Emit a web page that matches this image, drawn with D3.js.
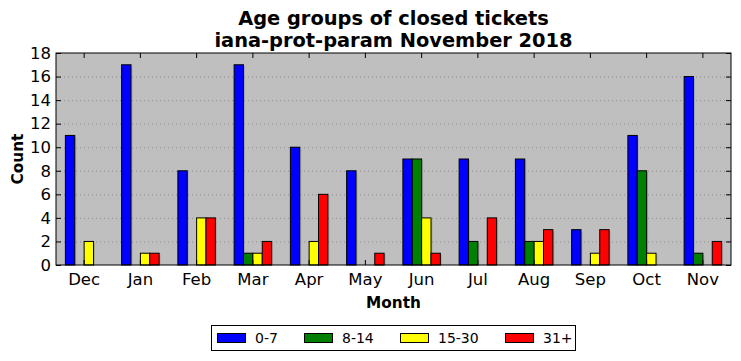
<!DOCTYPE html>
<html><head><meta charset="utf-8">
<script src="https://cdnjs.cloudflare.com/ajax/libs/d3/7.8.5/d3.min.js"></script>
<style>body{margin:0;background:#fff}svg{display:block;font-family:"DejaVu Sans",sans-serif}</style>
</head><body>
<svg id="c" width="741" height="361"></svg>
<script>
const months = ["Dec","Jan","Feb","Mar","Apr","May","Jun","Jul","Aug","Sep","Oct","Nov"];
const seriesNames = ["0-7","8-14","15-30","31+"];
const seriesColors = ["#0000ff","#008000","#ffff00","#ff0000"];
const s0_7   = [11,17,8,17,10,8,9,9,9,3,11,16];
const s8_14  = [0,0,0,1,0,0,9,2,2,0,8,1];
const s15_30 = [2,1,4,1,2,0,4,0,2,1,1,0];
const s31    = [0,1,4,2,6,1,1,4,3,3,0,2];
const yTicks = [0,2,4,6,8,10,12,14,16,18];
const allSeries = [s0_7, s8_14, s15_30, s31];

const svg = d3.select("#c");
const L=56, R=731, T=53, B=265;
const x = d3.scaleBand().domain(months).range([L,R]).padding(0);
const y = d3.scaleLinear().domain([0,18]).range([B,T]);
const bw = x.bandwidth()/6;

svg.append("rect").attr("x",L).attr("y",T).attr("width",R-L).attr("height",B-T).attr("fill","#bfbfbf");
// grid
svg.append("g").selectAll("line").data(yTicks.slice(1,-1)).join("line")
  .attr("x1",L).attr("x2",R).attr("y1",d=>y(d)+0.5).attr("y2",d=>y(d)+0.5)
  .attr("stroke","#8c8c8c").attr("stroke-width",1).attr("stroke-dasharray","1,3");

// bars
const bars = svg.append("g");
allSeries.forEach((vals,si)=>{
  const g = bars.append("g");
  g.selectAll("rect.sh").data(vals).join("rect").attr("class","sh")
    .attr("x",(d,i)=>x(months[i])+bw*(1+si)+1.5)
    .attr("y",d=>y(d)+1.5)
    .attr("width",bw).attr("height",d=>Math.max(0,B-y(d)-1.5))
    .attr("fill","#000").attr("opacity",0.12);
  g.selectAll("rect.b").data(vals).join("rect").attr("class","b")
    .attr("x",(d,i)=>x(months[i])+bw*(1+si))
    .attr("y",d=>y(d))
    .attr("width",bw).attr("height",d=>B-y(d))
    .attr("fill",seriesColors[si]).attr("stroke","#000").attr("stroke-width",1);
});

// frame
svg.append("rect").attr("x",L).attr("y",T).attr("width",R-L).attr("height",B-T)
  .attr("fill","none").attr("stroke","#000").attr("stroke-width",1);

// axes
const xAxB = d3.axisBottom(x).tickSizeInner(-5).tickSizeOuter(0).tickPadding(8);
const gx = svg.append("g").attr("transform",`translate(0,${B})`).call(xAxB);
gx.select(".domain").remove();
gx.selectAll("text").attr("font-size","16.5px").attr("fill","#000").attr("font-family","DejaVu Sans");
const gxt = svg.append("g").attr("transform",`translate(0,${T})`).call(d3.axisTop(x).tickSizeInner(-5).tickSizeOuter(0).tickFormat(""));
gxt.select(".domain").remove();

const gy = svg.append("g").attr("transform",`translate(${L},0)`).call(d3.axisLeft(y).tickValues(yTicks).tickSizeInner(-5).tickSizeOuter(0).tickPadding(5));
gy.select(".domain").remove();
gy.selectAll("text").attr("font-size","16.5px").attr("fill","#000").attr("font-family","DejaVu Sans");
const gyr = svg.append("g").attr("transform",`translate(${R},0)`).call(d3.axisRight(y).tickValues(yTicks).tickSizeInner(-5).tickSizeOuter(0).tickFormat(""));
gyr.select(".domain").remove();
svg.selectAll(".tick line").attr("stroke","#000");

// titles
svg.append("text").attr("x",(L+R)/2).attr("y",25).attr("text-anchor","middle")
  .attr("font-size","19.4px").attr("font-weight","bold").text("Age groups of closed tickets");
svg.append("text").attr("x",(L+R)/2).attr("y",47).attr("text-anchor","middle")
  .attr("font-size","19.4px").attr("font-weight","bold").text("iana-prot-param November 2018");
svg.append("text").attr("x",(L+R)/2).attr("y",308).attr("text-anchor","middle")
  .attr("font-size","15.3px").attr("font-weight","bold").text("Month");
svg.append("text").attr("transform",`translate(23,${(T+B)/2}) rotate(-90)`).attr("text-anchor","middle")
  .attr("font-size","15.3px").attr("font-weight","bold").text("Count");

// legend
const lg = svg.append("g");
lg.append("rect").attr("x",211.5).attr("y",325.5).attr("width",364).attr("height",25)
  .attr("fill","#fff").attr("stroke","#000").attr("stroke-width",1);
const lx = [217,304,400,505];
seriesNames.forEach((n,i)=>{
  lg.append("rect").attr("x",lx[i]+0.5).attr("y",333.5).attr("width",28).attr("height",9)
    .attr("fill",seriesColors[i]).attr("stroke","#000");
  lg.append("text").attr("x",lx[i]+38).attr("y",343).attr("font-size","14px").text(n);
});
</script>
</body></html>
